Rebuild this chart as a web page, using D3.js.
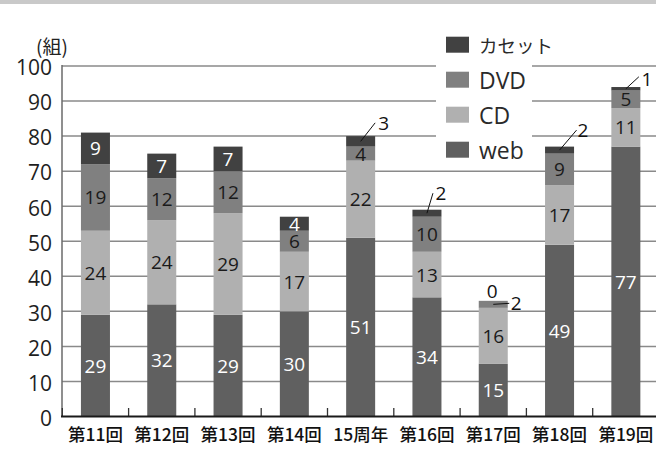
<!DOCTYPE html>
<html>
<head>
<meta charset="utf-8">
<script src="https://cdn.jsdelivr.net/npm/d3@7/dist/d3.min.js"></script>
<style>
  html, body { margin: 0; padding: 0; background: #fff; }
  svg { display: block; }
</style>
</head>
<body>
<svg id="chart" width="656" height="452"></svg>
<script>
// Entries per event, split by medium (stacked bottom to top: web, CD, DVD, cassette)
const categories = ['第11回', '第12回', '第13回', '第14回', '15周年', '第16回', '第17回', '第18回', '第19回'];
const seriesKeys = ['web', 'CD', 'DVD', 'カセット'];
const webCounts = [29, 32, 29, 30, 51, 34, 15, 49, 77];
const cdCounts = [24, 24, 29, 17, 22, 13, 16, 17, 11];
const dvdCounts = [19, 12, 12, 6, 4, 10, 2, 9, 5];
const cassetteCounts = [9, 7, 7, 4, 3, 2, 0, 2, 1];
const yTicks = [0, 10, 20, 30, 40, 50, 60, 70, 80, 90, 100];
const legendOrder = ['カセット', 'DVD', 'CD', 'web'];
const unitLabel = '(組)';

// Small segments whose values sit outside the bar, with a leader line
const callouts = [
  { cat: '15周年', key: 'カセット' },
  { cat: '第16回', key: 'カセット' },
  { cat: '第17回', key: 'カセット' },
  { cat: '第17回', key: 'DVD' },
  { cat: '第18回', key: 'カセット' },
  { cat: '第19回', key: 'カセット' }
];

// Placement of those outside labels relative to the segment midpoint
const calloutLayout = {
  '15周年|カセット': { line: [14.5, -18.5], text: [23, -18] },
  '第16回|カセット': { line: [6, -20], text: [14, -20.5] },
  '第17回|カセット': { line: null, text: [-1, -9.5] },
  '第17回|DVD': { line: [16, -1], text: [23, -1.5] },
  '第18回|カセット': { line: [17, -20], text: [23.5, -20.5] },
  '第19回|カセット': { line: [13, -12], text: [21, -9.5] }
};

const colors = { 'web': '#606060', 'CD': '#b0b0b0', 'DVD': '#808080', 'カセット': '#414141' };
const labelColors = { 'web': '#ffffff', 'CD': '#1a1a1a', 'DVD': '#1a1a1a', 'カセット': '#ffffff' };

const rows = categories.map((c, i) => ({
  cat: c,
  'web': webCounts[i],
  'CD': cdCounts[i],
  'DVD': dvdCounts[i],
  'カセット': cassetteCounts[i]
}));

const svg = d3.select('#chart');
const W = 656, H = 452;

const latin = '"Open Sans", "Noto Sans CJK JP", sans-serif';
const cjk = '"Noto Sans CJK JP", sans-serif';

// top band
svg.append('rect').attr('x', 0).attr('y', 0).attr('width', W).attr('height', 4).attr('fill', '#c9c9c9');

const x = d3.scaleBand()
  .domain(categories)
  .range([62.3, 659])
  .paddingInner(0.5625)
  .paddingOuter(0.28125);

const y = d3.scaleLinear().domain([0, 100]).range([416.5, 66]);

// gridlines
svg.append('g')
  .selectAll('line')
  .data(yTicks.filter(t => t > 0))
  .join('line')
  .attr('x1', 62).attr('x2', W)
  .attr('y1', d => y(d)).attr('y2', d => y(d))
  .attr('stroke', '#8a8a8a').attr('stroke-width', 1.5);

// legend box hides the gridlines behind it
svg.append('rect').attr('x', 436).attr('y', 24).attr('width', 96).attr('height', 138).attr('fill', '#fff');

// y axis labels
const yAxis = d3.axisLeft(y).tickValues(yTicks).tickSize(0).tickPadding(10).tickFormat(d3.format('d'));
const yg = svg.append('g').attr('transform', 'translate(62,0)').call(yAxis);
yg.select('.domain').remove();
yg.selectAll('text')
  .attr('font-family', latin).attr('font-size', 21).attr('fill', '#1e1e1e')
  .attr('dy', '0.42em');

// left axis line
svg.append('line').attr('x1', 62).attr('x2', 62).attr('y1', 65).attr('y2', 417)
  .attr('stroke', '#6a6a6a').attr('stroke-width', 1.5);

// unit label
svg.append('text').attr('x', 52).attr('y', 45)
  .attr('text-anchor', 'middle').attr('dominant-baseline', 'central')
  .attr('font-family', cjk).attr('font-size', 19).attr('fill', '#222')
  .text(unitLabel);

// stacked bars
const stacked = d3.stack().keys(seriesKeys)(rows);
const layers = svg.append('g').selectAll('g')
  .data(stacked)
  .join('g')
  .attr('fill', d => colors[d.key]);

layers.selectAll('rect')
  .data(d => d.map(s => ({ key: d.key, cat: s.data.cat, y0: s[0], y1: s[1] })))
  .join('rect')
  .attr('x', d => x(d.cat))
  .attr('width', x.bandwidth())
  .attr('y', d => y(d.y1))
  .attr('height', d => y(d.y0) - y(d.y1));

// bottom axis and category separators
const xAxis = d3.axisBottom(x).tickSize(0).tickPadding(16);
const xg = svg.append('g').attr('transform', 'translate(0,416.5)').call(xAxis);
xg.select('.domain').remove();
xg.selectAll('text')
  .attr('font-family', cjk).attr('font-size', 17.5).attr('font-weight', 500).attr('fill', '#111')
  .attr('dy', '0.5em');

const step = x.step();
const boundaries = d3.range(0, categories.length + 1).map(i => x.range()[0] + i * step);
svg.append('g').selectAll('line')
  .data(boundaries)
  .join('line')
  .attr('x1', d => d).attr('x2', d => d)
  .attr('y1', 408).attr('y2', 416.5)
  .attr('stroke', '#333').attr('stroke-width', 1.3);

svg.append('line').attr('x1', 61).attr('x2', W).attr('y1', 416.5).attr('y2', 416.5)
  .attr('stroke', '#1a1a1a').attr('stroke-width', 2);

// value labels
const calloutSet = new Set(callouts.map(c => c.cat + '|' + c.key));
const segs = [];
stacked.forEach(layer => {
  layer.forEach(s => {
    segs.push({ key: layer.key, cat: s.data.cat, v: s[1] - s[0], y0: s[0], y1: s[1] });
  });
});

const labelG = svg.append('g').attr('font-family', latin).attr('font-size', 19);

segs.forEach(d => {
  const cx = x(d.cat) + x.bandwidth() / 2;
  const my = y((d.y0 + d.y1) / 2);
  const id = d.cat + '|' + d.key;
  if (calloutSet.has(id)) {
    const lay = calloutLayout[id];
    if (lay.line) {
      labelG.append('line')
        .attr('x1', cx).attr('y1', my)
        .attr('x2', cx + lay.line[0]).attr('y2', my + lay.line[1])
        .attr('stroke', '#111').attr('stroke-width', 1);
    }
    labelG.append('text')
      .attr('x', cx + lay.text[0]).attr('y', my + lay.text[1])
      .attr('text-anchor', 'middle').attr('dominant-baseline', 'central')
      .attr('fill', '#111')
      .text(d.v);
  } else {
    labelG.append('text')
      .attr('x', cx).attr('y', my)
      .attr('text-anchor', 'middle').attr('dominant-baseline', 'central')
      .attr('fill', labelColors[d.key])
      .text(d.v);
  }
});

// legend
const isLatin = s => /^[A-Za-z]+$/.test(s);
const lg = svg.append('g').selectAll('g')
  .data(legendOrder)
  .join('g')
  .attr('transform', (d, i) => `translate(446, ${44.7 + i * 35})`);
lg.append('rect').attr('x', 0).attr('y', -8).attr('width', 23).attr('height', 16)
  .attr('fill', d => colors[d]);
const legendText = lg.append('text').attr('x', 33).attr('y', 0)
  .attr('dominant-baseline', 'central')
  .attr('font-family', d => isLatin(d) ? latin : cjk)
  .attr('font-size', 20)
  .attr('fill', '#2a2a2a')
  .text(d => d);

// size the legend type so the kana label spans about 74px and "DVD" about 47px
const kanaNode = legendText.filter(d => !isLatin(d)).node();
const dvdNode = legendText.filter(d => d === 'DVD').node();
const kanaSize = 20 * 74 / kanaNode.getComputedTextLength();
const latinSize = 20 * 47 / dvdNode.getComputedTextLength();
legendText.attr('font-size', d => isLatin(d) ? latinSize : kanaSize);
</script>
</body>
</html>
